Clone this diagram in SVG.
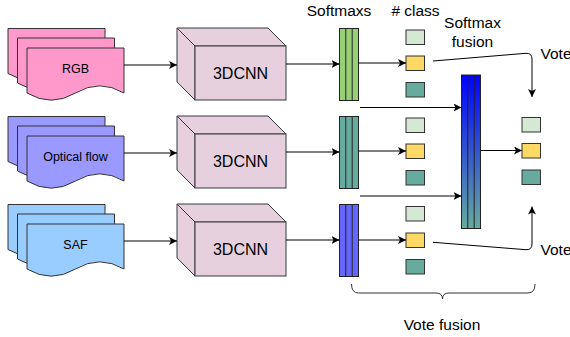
<svg xmlns="http://www.w3.org/2000/svg" width="570" height="337" viewBox="0 0 570 337">
  <defs>
    <marker id="arrow" viewBox="0 0 10 10" refX="10" refY="5" markerWidth="8" markerHeight="8" markerUnits="userSpaceOnUse" orient="auto">
      <path d="M0,0 L10,5 L0,10 L2.5,5 Z" fill="#000"/>
    </marker>
    <linearGradient id="fusionGrad" x1="0" y1="0" x2="0" y2="1">
      <stop offset="0" stop-color="#0000FF"/>
      <stop offset="1" stop-color="#67AB9F"/>
    </linearGradient>
    <!-- stacked document sheet, 97 x 53 -->
    <path id="sheet" d="M0,0 H97 V45 Q72.75,30.7 48.5,45 Q24.25,59.4 0,45 Z"/>
  </defs>
  <style>
    text { font-family: "Liberation Sans", Arial, sans-serif; fill: #000; }
    .doc { stroke: #333; stroke-width: 1; }
    .pink { fill: #FF99CC; }
    .violet { fill: #9999FF; }
    .sky { fill: #99CCFF; }
    .cube { fill: #E6D0DE; stroke: #36393D; stroke-width: 1; }
    .bar { stroke: #222; stroke-width: 1; }
    .col { stroke: #222; stroke-width: 1; fill: none; }
    .c1 { fill: #D5E8D4; stroke: #333; }
    .c2 { fill: #FFD966; stroke: #333; }
    .c3 { fill: #67AB9F; stroke: #333; }
    .edge { fill: none; stroke: #000; stroke-width: 1; marker-end: url(#arrow); }
    .lbl { font-size: 15.5px; }
    .inlbl { font-size: 12.5px; text-anchor: middle; }
    .cnn { font-size: 16px; text-anchor: middle; }
  </style>

  <!-- input stacks -->
  <g id="input-rgb">
    <use href="#sheet" class="doc pink" x="8" y="28.5"/>
    <use href="#sheet" class="doc pink" x="17.5" y="38"/>
    <use href="#sheet" class="doc pink" x="27" y="48"/>
    <text class="inlbl" x="75.5" y="72.5">RGB</text>
  </g>
  <g id="input-flow">
    <use href="#sheet" class="doc violet" x="8" y="116.5"/>
    <use href="#sheet" class="doc violet" x="17.5" y="126"/>
    <use href="#sheet" class="doc violet" x="27" y="136"/>
    <text class="inlbl" x="75.5" y="160.5">Optical flow</text>
  </g>
  <g id="input-saf">
    <use href="#sheet" class="doc sky" x="8" y="204.5"/>
    <use href="#sheet" class="doc sky" x="17.5" y="214"/>
    <use href="#sheet" class="doc sky" x="27" y="224"/>
    <text class="inlbl" x="75.5" y="248.5">SAF</text>
  </g>

  <!-- 3D CNN blocks -->
  <g id="cnn-rgb">
    <polygon class="cube" points="177,28 268,28 286,46 195,46"/>
    <polygon class="cube" points="177,28 195,46 195,100 177,82"/>
    <rect class="cube" x="195" y="46" width="91" height="54"/>
    <text class="cnn" x="240.5" y="79">3DCNN</text>
  </g>
  <g id="cnn-flow">
    <polygon class="cube" points="177,116 268,116 286,134 195,134"/>
    <polygon class="cube" points="177,116 195,134 195,188 177,170"/>
    <rect class="cube" x="195" y="134" width="91" height="54"/>
    <text class="cnn" x="240.5" y="167">3DCNN</text>
  </g>
  <g id="cnn-saf">
    <polygon class="cube" points="177,204 268,204 286,222 195,222"/>
    <polygon class="cube" points="177,204 195,222 195,276 177,258"/>
    <rect class="cube" x="195" y="222" width="91" height="54"/>
    <text class="cnn" x="240.5" y="255">3DCNN</text>
  </g>

  <!-- per-stream softmax outputs -->
  <g id="softmax-rgb">
    <rect class="bar" x="339.5" y="28.5" width="19" height="72" fill="#97D077"/>
    <path class="col" d="M345.8,28.5 V100.5 M352.2,28.5 V100.5"/>
  </g>
  <g id="softmax-flow">
    <rect class="bar" x="339.5" y="116.5" width="19" height="72" fill="#67AB9F"/>
    <path class="col" d="M345.8,116.5 V188.5 M352.2,116.5 V188.5"/>
  </g>
  <g id="softmax-saf">
    <rect class="bar" x="339.5" y="204.5" width="19" height="72" fill="#6666FF"/>
    <path class="col" d="M345.8,204.5 V276.5 M352.2,204.5 V276.5"/>
  </g>

  <!-- class scores -->
  <g id="class-rgb">
    <rect class="c1" x="406" y="30" width="18.5" height="14.5"/>
    <rect class="c2" x="406" y="56" width="18.5" height="14.5"/>
    <rect class="c3" x="406" y="82.5" width="18.5" height="14.5"/>
  </g>
  <g id="class-flow">
    <rect class="c1" x="406" y="118" width="18.5" height="14.5"/>
    <rect class="c2" x="406" y="144" width="18.5" height="14.5"/>
    <rect class="c3" x="406" y="170.5" width="18.5" height="14.5"/>
  </g>
  <g id="class-saf">
    <rect class="c1" x="406" y="206.5" width="18.5" height="14.5"/>
    <rect class="c2" x="406" y="233" width="18.5" height="14.5"/>
    <rect class="c3" x="406" y="259.5" width="18.5" height="14.5"/>
  </g>

  <!-- fused softmax -->
  <g id="softmax-fusion">
    <rect class="bar" x="461.5" y="75" width="19" height="153.5" fill="url(#fusionGrad)" stroke="#555"/>
    <path class="col" d="M467.8,75 V228.5 M474.2,75 V228.5"/>
  </g>

  <!-- fused class scores -->
  <g id="class-out">
    <rect class="c1" x="522" y="117.5" width="18.5" height="14.5"/>
    <rect class="c2" x="522" y="143.5" width="18.5" height="14.5"/>
    <rect class="c3" x="522" y="170" width="18.5" height="14.5"/>
  </g>

  <!-- connectors -->
  <g id="connectors">
    <path class="edge" d="M124,65 H177"/>
    <path class="edge" d="M124,153 H177"/>
    <path class="edge" d="M124,241 H177"/>
    <path class="edge" d="M286,64 H339.5"/>
    <path class="edge" d="M286,152 H339.5"/>
    <path class="edge" d="M286,240 H339.5"/>
    <path class="edge" d="M358.5,63 H406"/>
    <path class="edge" d="M358.5,151 H406"/>
    <path class="edge" d="M358.5,240 H406"/>
    <path class="edge" d="M360,107.5 H461.5"/>
    <path class="edge" d="M360,196 H461.5"/>
    <path class="edge" d="M480.5,150.5 H522"/>
    <path class="edge" d="M433,61 L526,53.3 Q532,53 532,59 V97"/>
    <path class="edge" d="M433,242.3 L526,249.7 Q532,250 532,244 V206.5"/>
    <path d="M351.5,284 Q351.5,293 358.5,293 H436 Q442.5,293 442.5,299 Q442.5,293 449,293 H528 Q535,293 535,284" fill="none" stroke="#333" stroke-width="1"/>
  </g>

  <!-- captions -->
  <text class="lbl" x="339" y="15.5" text-anchor="middle">Softmaxs</text>
  <text class="lbl" x="415.5" y="15.5" text-anchor="middle"># class</text>
  <text class="lbl" x="472.5" y="27.5" text-anchor="middle">Softmax</text>
  <text class="lbl" x="472.5" y="46.5" text-anchor="middle">fusion</text>
  <text class="lbl" x="540.5" y="58.5">Vote</text>
  <text class="lbl" x="540.5" y="254.5">Vote</text>
  <text class="lbl" x="442" y="330" text-anchor="middle">Vote fusion</text>
</svg>
